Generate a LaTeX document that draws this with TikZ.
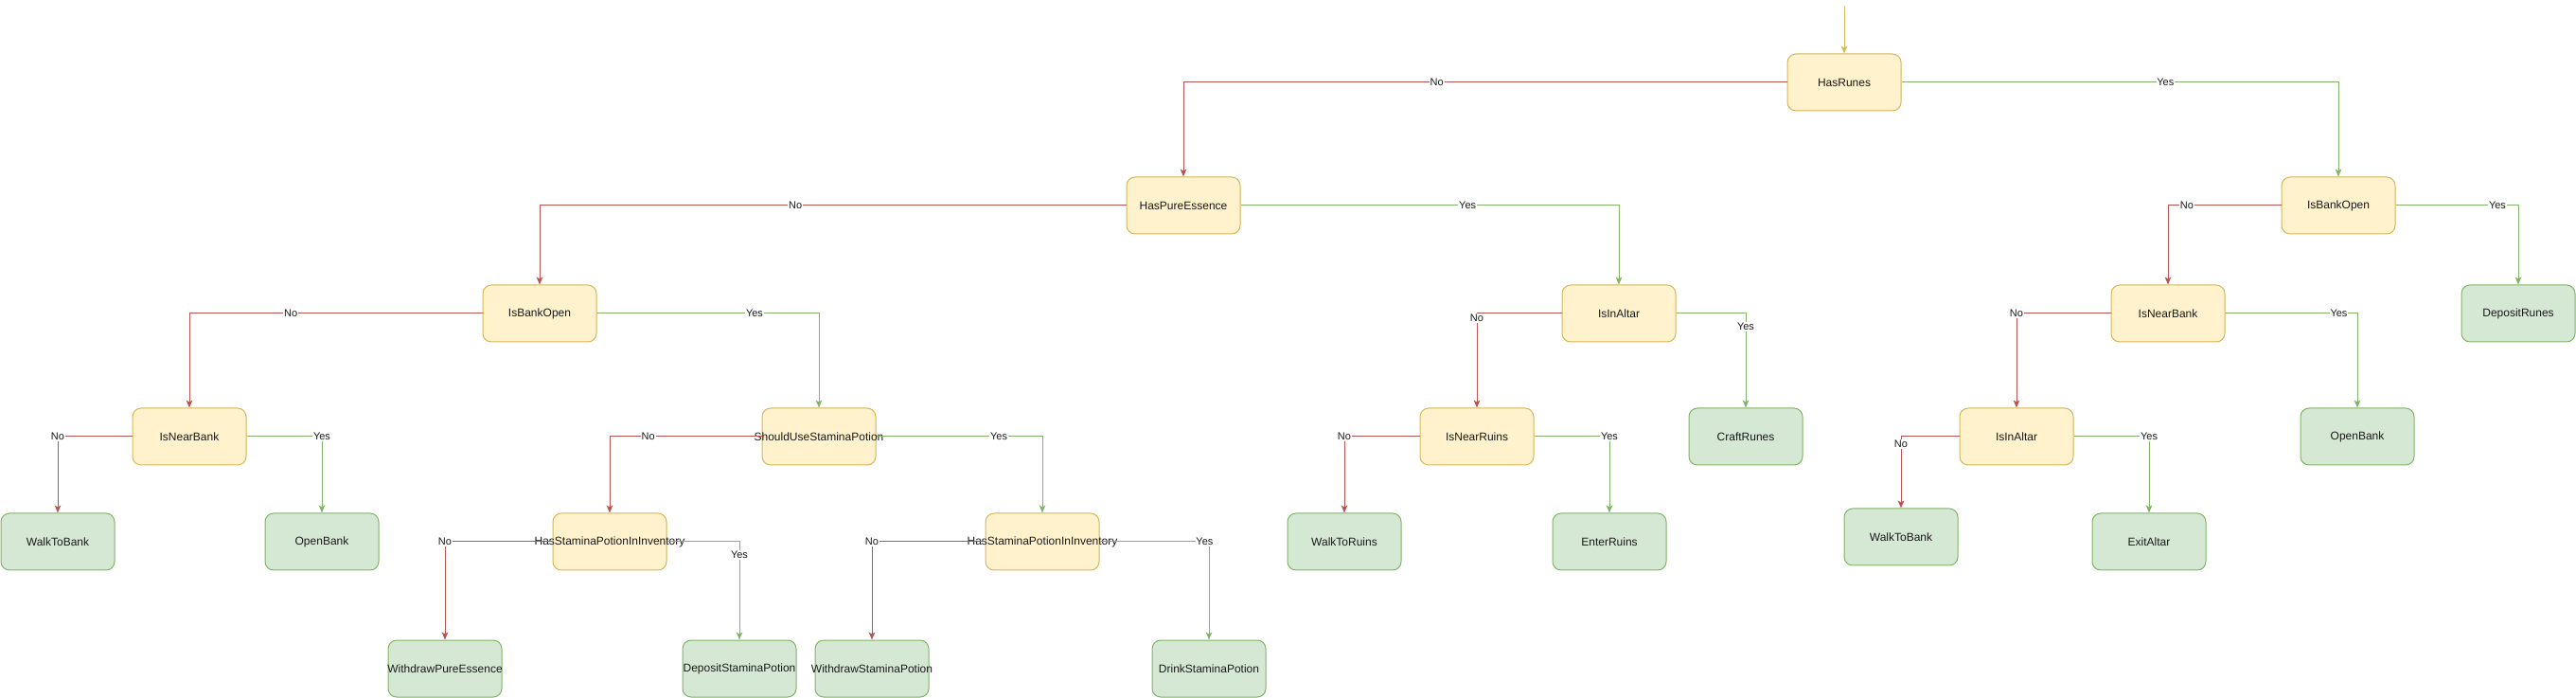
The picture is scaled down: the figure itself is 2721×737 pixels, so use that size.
\documentclass[tikz,border=0pt]{standalone}
\usepackage{fontspec}
\setmainfont{Liberation Sans}
\usetikzlibrary{arrows.meta}
\definecolor{yfill}{HTML}{FFF2CC}
\definecolor{ydraw}{HTML}{D6B656}
\definecolor{gfill}{HTML}{D5E8D4}
\definecolor{gdraw}{HTML}{82B366}
\definecolor{redline}{HTML}{B85450}
\definecolor{greenline}{HTML}{82B366}
\definecolor{txt}{HTML}{1A1A1A}
\tikzset{
  box/.style={rounded corners=6.75pt, line width=0.75pt, minimum width=90pt, minimum height=45pt, inner sep=0pt, text=txt, font=\fontsize{9}{11}\selectfont},
  cond/.style={box, draw=ydraw, fill=yfill},
  act/.style={box, draw=gdraw, fill=gfill},
  conn/.style={line width=0.75pt, -{Stealth[length=6pt,width=5pt,inset=1.5pt]}},
  noedge/.style={conn, draw=redline},
  yesedge/.style={conn, draw=greenline},
  lbl/.style={fill=white, inner sep=0.6pt, text=txt, font=\fontsize{8.25}{10}\selectfont},
}
\begin{document}
\begin{tikzpicture}[x=0.75pt,y=-0.75pt]
\useasboundingbox (0,0) rectangle (2721,737);
% conditions
\node[cond] (hasrunes) at (1948,87) {HasRunes};
\node[cond] (haspure) at (1250,217) {HasPureEssence};
\node[cond] (bankopenR) at (2470,217) {IsBankOpen};
\node[cond] (bankopenL) at (570,331) {IsBankOpen};
\node[cond] (altarM) at (1710,331) {IsInAltar};
\node[cond] (nearbankR) at (2290,331) {IsNearBank};
\node[cond] (nearbankL) at (200,461) {IsNearBank};
\node[cond] (stamina) at (865,461) {\makebox[0pt]{ShouldUseStaminaPotion}};
\node[cond] (nearruins) at (1560,461) {IsNearRuins};
\node[cond] (altarR) at (2130,461) {IsInAltar};
\node[cond] (hspL) at (644,572) {\makebox[0pt]{HasStaminaPotionInInventory}};
\node[cond] (hspR) at (1101,572) {\makebox[0pt]{HasStaminaPotionInInventory}};
% actions
\node[act] (deposit) at (2660,331) {DepositRunes};
\node[act] (craft) at (1844,461) {CraftRunes};
\node[act] (openbankR) at (2490,461) {OpenBank};
\node[act] (walkbankL) at (61,572) {WalkToBank};
\node[act] (openbankL) at (340,572) {OpenBank};
\node[act] (walkruins) at (1420,572) {WalkToRuins};
\node[act] (enterruins) at (1700,572) {EnterRuins};
\node[act] (walkbankR) at (2008,567) {WalkToBank};
\node[act] (exitaltar) at (2270,572) {ExitAltar};
\node[act] (withpure) at (470,706) {\makebox[0pt]{WithdrawPureEssence}};
\node[act] (depstam) at (781,706) {\makebox[0pt]{DepositStaminaPotion}};
\node[act] (withstam) at (921,706) {\makebox[0pt]{WithdrawStaminaPotion}};
\node[act] (drinkstam) at (1277,706) {\makebox[0pt]{DrinkStaminaPotion}};
% entry
\coordinate (start) at (1948,7);
\draw[conn, draw=ydraw] (start) -- (hasrunes.north);
% edges
\draw[noedge] (hasrunes.west) -| node[lbl,pos=0.29] {No} (haspure.north);
\draw[yesedge] (hasrunes.east) -| node[lbl,pos=0.302] {Yes} (bankopenR.north);
\draw[noedge] (haspure.west) -| node[lbl,pos=0.282] {No} (bankopenL.north);
\draw[yesedge] (haspure.east) -| node[lbl,pos=0.30] {Yes} (altarM.north);
\draw[noedge] (bankopenR.west) -| node[lbl,pos=0.417] {No} (nearbankR.north);
\draw[yesedge] (bankopenR.east) -| node[lbl,pos=0.415] {Yes} (deposit.north);
\draw[noedge] (bankopenL.west) -| node[lbl,pos=0.327] {No} (nearbankL.north);
\draw[yesedge] (bankopenL.east) -| node[lbl,pos=0.355] {Yes} (stamina.north);
\draw[noedge] (altarM.west) -| node[lbl,pos=0.525] {No} (nearruins.north);
\draw[yesedge] (altarM.east) -| node[lbl,pos=0.57] {Yes} (craft.north);
\draw[noedge] (nearbankR.west) -| node[lbl,pos=0.5] {No} (altarR.north);
\draw[yesedge] (nearbankR.east) -| node[lbl,pos=0.43] {Yes} (openbankR.north);
\draw[noedge] (nearbankL.west) -| node[lbl,pos=0.5] {No} (walkbankL.north);
\draw[yesedge] (nearbankL.east) -| node[lbl,pos=0.5] {Yes} (openbankL.north);
\draw[noedge] (stamina.west) -| node[lbl,pos=0.373] {No} (hspL.north);
\draw[yesedge] (stamina.east) -| node[lbl,pos=0.369] {Yes} (hspR.north);
\draw[noedge] (nearruins.west) -| node[lbl,pos=0.5] {No} (walkruins.north);
\draw[yesedge] (nearruins.east) -| node[lbl,pos=0.5] {Yes} (enterruins.north);
\draw[noedge] (altarR.west) -| node[lbl,pos=0.553] {No} (walkbankR.north);
\draw[yesedge] (altarR.east) -| node[lbl,pos=0.5] {Yes} (exitaltar.north);
\draw[noedge] (hspL.west) -| node[lbl,pos=0.5] {No} (withpure.north);
\draw[yesedge] (hspL.east) -| node[lbl,pos=0.567] {Yes} (depstam.north);
\draw[noedge] (hspR.west) -| node[lbl,pos=0.5] {No} (withstam.north);
\draw[yesedge] (hspR.east) -| node[lbl,pos=0.48] {Yes} (drinkstam.north);
\end{tikzpicture}
\end{document}
